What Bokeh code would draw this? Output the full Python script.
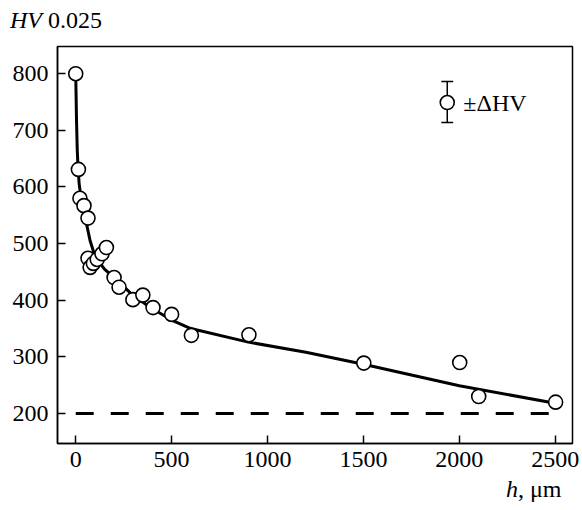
from bokeh.plotting import figure
from bokeh.models import Label, Range1d, FixedTicker, Div
from bokeh.layouts import column
from bokeh.embed import file_html
from bokeh.resources import INLINE

# measured points
depth = [0, 14, 22, 43, 64, 64, 75, 92, 112, 137, 160, 200, 226, 298, 350, 403, 500, 603, 903, 1502, 2002, 2101, 2502]
hv = [800, 631, 580, 567, 545, 474, 458, 465, 472, 482, 493, 440, 423, 401, 409, 387, 375, 338, 339, 289, 290, 230, 220]

# fitted curve
fit_depth = [0, 4, 8, 12, 18, 25, 35, 50, 75, 100, 150, 200, 300, 400, 500, 600, 900, 1200, 1500, 2000, 2500]
fit_hv = [800, 720, 665, 635, 605, 588, 568, 545, 505, 478, 455, 440, 408, 385, 365, 350, 326, 308, 287, 249, 218]

# base hardness level
base_depth = [0, 2500]
base_hv = [200, 200]

x_ticks = [0, 500, 1000, 1500, 2000, 2500]
y_ticks = [200, 300, 400, 500, 600, 700, 800]

y_title = "<i>HV</i> 0.025"
x_title = "<i>h</i>, μm"

FONT = "Liberation Serif"
FS = "24px"

p = figure(width=582, height=440, output_backend="svg", toolbar_location=None,
           x_range=Range1d(-95, 2590), y_range=Range1d(147, 848),
           min_border_left=57, min_border_right=10, min_border_top=6, min_border_bottom=37,
           margin=0)
p.grid.visible = False
p.outline_line_color = "black"
p.outline_line_width = 1.5
p.outline_line_alpha = 1.0

for ax in (p.xaxis[0], p.yaxis[0]):
    ax.major_tick_in = 8
    ax.major_tick_out = 0
    ax.minor_tick_in = 0
    ax.minor_tick_out = 0
    ax.axis_line_width = 1.5
    ax.major_tick_line_width = 1.5
    ax.major_label_text_font = FONT
    ax.major_label_text_font_size = FS
    ax.major_label_text_color = "black"
    ax.axis_line_color = "black"
    ax.major_tick_line_color = "black"
p.xaxis.ticker = FixedTicker(ticks=x_ticks)
p.yaxis.ticker = FixedTicker(ticks=y_ticks)
p.xaxis.major_label_standoff = 8
p.yaxis.major_label_standoff = 9

p.line(base_depth, base_hv, line_color="black", line_width=3, line_dash="18 17")
p.line(fit_depth, fit_hv, line_color="black", line_width=3)
p.scatter(depth, hv, size=14, fill_color="white", line_color="black", line_width=1.6)

# legend icon
p.segment([1937], [714], [1937], [786], line_color="black", line_width=1.5)
p.segment([1906, 1906], [714, 786], [1968, 1968], [714, 786], line_color="black", line_width=1.5)
p.scatter([1937], [749], size=14, fill_color="white", line_color="black", line_width=1.6)
p.add_layout(Label(x=2021, y=749, text="±ΔHV", text_font=FONT, text_font_size=FS,
                   text_baseline="middle", text_color="black"))

top = Div(text='<div style="padding-left:10px;white-space:nowrap">' + y_title + '</div>',
          width=582, height=40, margin=0,
          styles={"font-family": FONT, "font-size": FS, "line-height": "40px", "color": "black"})
bottom = Div(text='<div style="padding-left:506px;white-space:nowrap">' + x_title + '</div>',
             width=582, height=28, margin=0,
             styles={"font-family": FONT, "font-size": FS, "line-height": "18px", "color": "black"})

layout = column(top, p, bottom, spacing=0, margin=0)
open("out.html", "w").write(file_html(layout, INLINE))
